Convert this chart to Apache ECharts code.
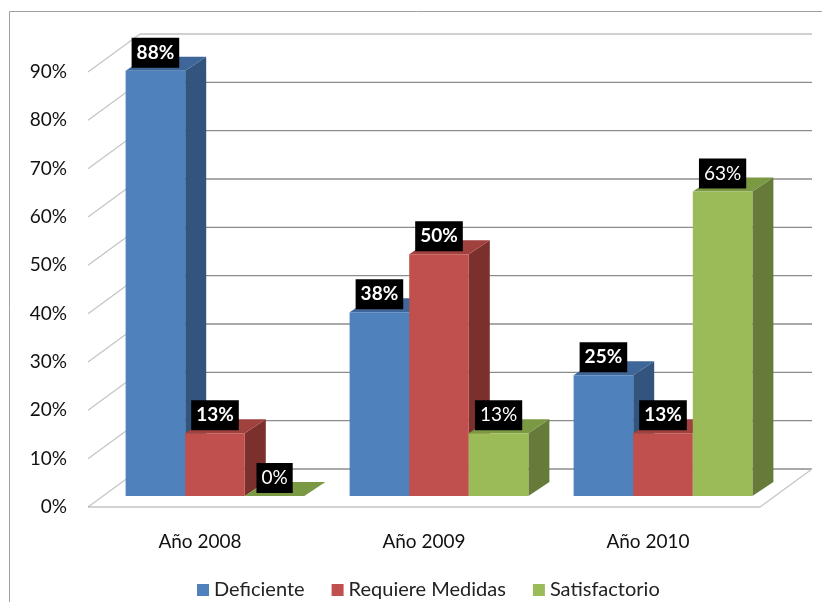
<!DOCTYPE html>
<html>
<head>
<meta charset="utf-8">
<script src="https://cdn.jsdelivr.net/npm/echarts@6/dist/echarts.min.js"></script>
<style>
html, body { margin: 0; padding: 0; background: #fff; }
#chart { width: 822px; height: 602px; }
</style>
</head>
<body>
<div id="chart"></div>
<script>
// data
const years = ['Año 2008', 'Año 2009', 'Año 2010'];
const seriesNames = ['Deficiente', 'Requiere Medidas', 'Satisfactorio'];
const deficiente = [88, 38, 25];
const requiereMedidas = [13, 50, 13];
const satisfactorio = [0, 13, 63];
const yTicks = [0, 10, 20, 30, 40, 50, 60, 70, 80, 90];

// excel-ish 3d look: front, side, top colours per series
const palette = [
  { front: '#4F81BD', side: '#33547D', top: '#3E6698' },
  { front: '#C0504D', side: '#7B302E', top: '#A0413E' },
  { front: '#9BBB59', side: '#667A39', top: '#7B9843' }
];
const boldLabel = [true, true, false];

const WALL_DX = 52, WALL_DY = 38;   // depth of the floor / walls
const FRONT_DX = 15, FRONT_DY = 11; // bars sit a bit inside the box
const BAR_DX = 21, BAR_DY = 14;     // bar depth

const chart = echarts.init(document.getElementById('chart'));

function frameItem(params, api) {
  const cs = params.coordSys;
  const t = api.value(1);
  const y = api.coord([0, t])[1];
  const left = cs.x, right = cs.x + cs.width;
  const lineStyle = { stroke: '#a6a6a6', lineWidth: 1 };
  const children = [
    { type: 'line', shape: { x1: left, y1: y, x2: left + WALL_DX, y2: y - WALL_DY },
      style: { stroke: '#c4c4c4', lineWidth: 1.2 } },
    { type: 'line', shape: { x1: left + WALL_DX, y1: y - WALL_DY, x2: right + WALL_DX, y2: y - WALL_DY },
      style: { stroke: t === 90 ? '#c0c0c0' : '#8c8c8c', lineWidth: 1.3 } }
  ];
  if (t === 0) {
    children.push(
      { type: 'line', shape: { x1: left, y1: y, x2: right, y2: y }, style: lineStyle },
      { type: 'line', shape: { x1: right, y1: y, x2: right + WALL_DX, y2: y - WALL_DY },
        style: { stroke: '#c4c4c4', lineWidth: 1.2 } }
    );
  }
  return { type: 'group', children: children };
}

function barItem(k) {
  const c = palette[k];
  return function (params, api) {
    const cat = api.value(0), val = api.value(1);
    const base = api.coord([cat, 0]);
    const tip = api.coord([cat, val]);
    const bw = api.size([1, 0])[0];
    const w = bw * 0.266;
    const x0 = base[0] - 1.5 * w + k * w + FRONT_DX;
    const x1 = x0 + w;
    const yb = base[1] - FRONT_DY;
    const yt = tip[1] - FRONT_DY;
    return {
      type: 'group',
      children: [
        { type: 'polygon', shape: { points: [[x1, yb], [x1 + BAR_DX, yb - BAR_DY], [x1 + BAR_DX, yt - BAR_DY], [x1, yt]] },
          style: { fill: c.side } },
        { type: 'polygon', shape: { points: [[x0, yt], [x1, yt], [x1 + BAR_DX, yt - BAR_DY], [x0 + BAR_DX, yt - BAR_DY]] },
          style: { fill: c.top } },
        { type: 'rect', shape: { x: x0, y: yt, width: w, height: yb - yt },
          style: { fill: c.front } },
        { type: 'text', x: (x0 + x1) / 2, y: yt - 3, z2: 10,
          style: {
            text: val + '%', fill: '#fff',
            font: (boldLabel[k] ? 'bold ' : '') + '19px Lato',
            lineHeight: 20,
            backgroundColor: '#000', padding: [5, 5, 5, 5],
            align: 'center', verticalAlign: 'bottom'
          } }
      ]
    };
  };
}

const values = [deficiente, requiereMedidas, satisfactorio];

const option = {
  animation: false,
  backgroundColor: '#fff',
  textStyle: { fontFamily: 'Lato' },
  graphic: [{
    type: 'rect', shape: { x: 9.5, y: 11.5, width: 830, height: 620 },
    style: { fill: 'none', stroke: '#a0a0a0', lineWidth: 1 }, silent: true
  }],
  grid: { left: 88, right: 62, top: 72, bottom: 95 },
  legend: {
    data: seriesNames, left: 192, top: 575,
    icon: 'rect', itemWidth: 12, itemHeight: 12, itemGap: 27,
    textStyle: { fontSize: 20, color: '#222', fontFamily: 'Lato' }
  },
  xAxis: {
    type: 'category', data: years,
    axisLine: { show: false }, axisTick: { show: false }, splitLine: { show: false },
    axisLabel: { margin: 25, fontSize: 19, color: '#111', fontFamily: 'Lato' }
  },
  yAxis: {
    type: 'value', min: 0, max: 90, interval: 10,
    axisLine: { show: false }, axisTick: { show: false }, splitLine: { show: false },
    axisLabel: { margin: 21, fontSize: 19, color: '#111', fontFamily: 'Lato', formatter: '{value}%' }
  },
  series: [
    { type: 'custom', name: 'frame', renderItem: frameItem, silent: true, z: 1,
      data: yTicks.map(t => [0, t]) }
  ].concat(seriesNames.map((name, k) => ({
    type: 'custom', name: name, z: 2 + k,
    itemStyle: { color: palette[k].front },
    renderItem: barItem(k),
    encode: { x: 0, y: 1 },
    data: values[k].map((v, i) => [i, v])
  })))
};

chart.setOption(option);
</script>
</body>
</html>
